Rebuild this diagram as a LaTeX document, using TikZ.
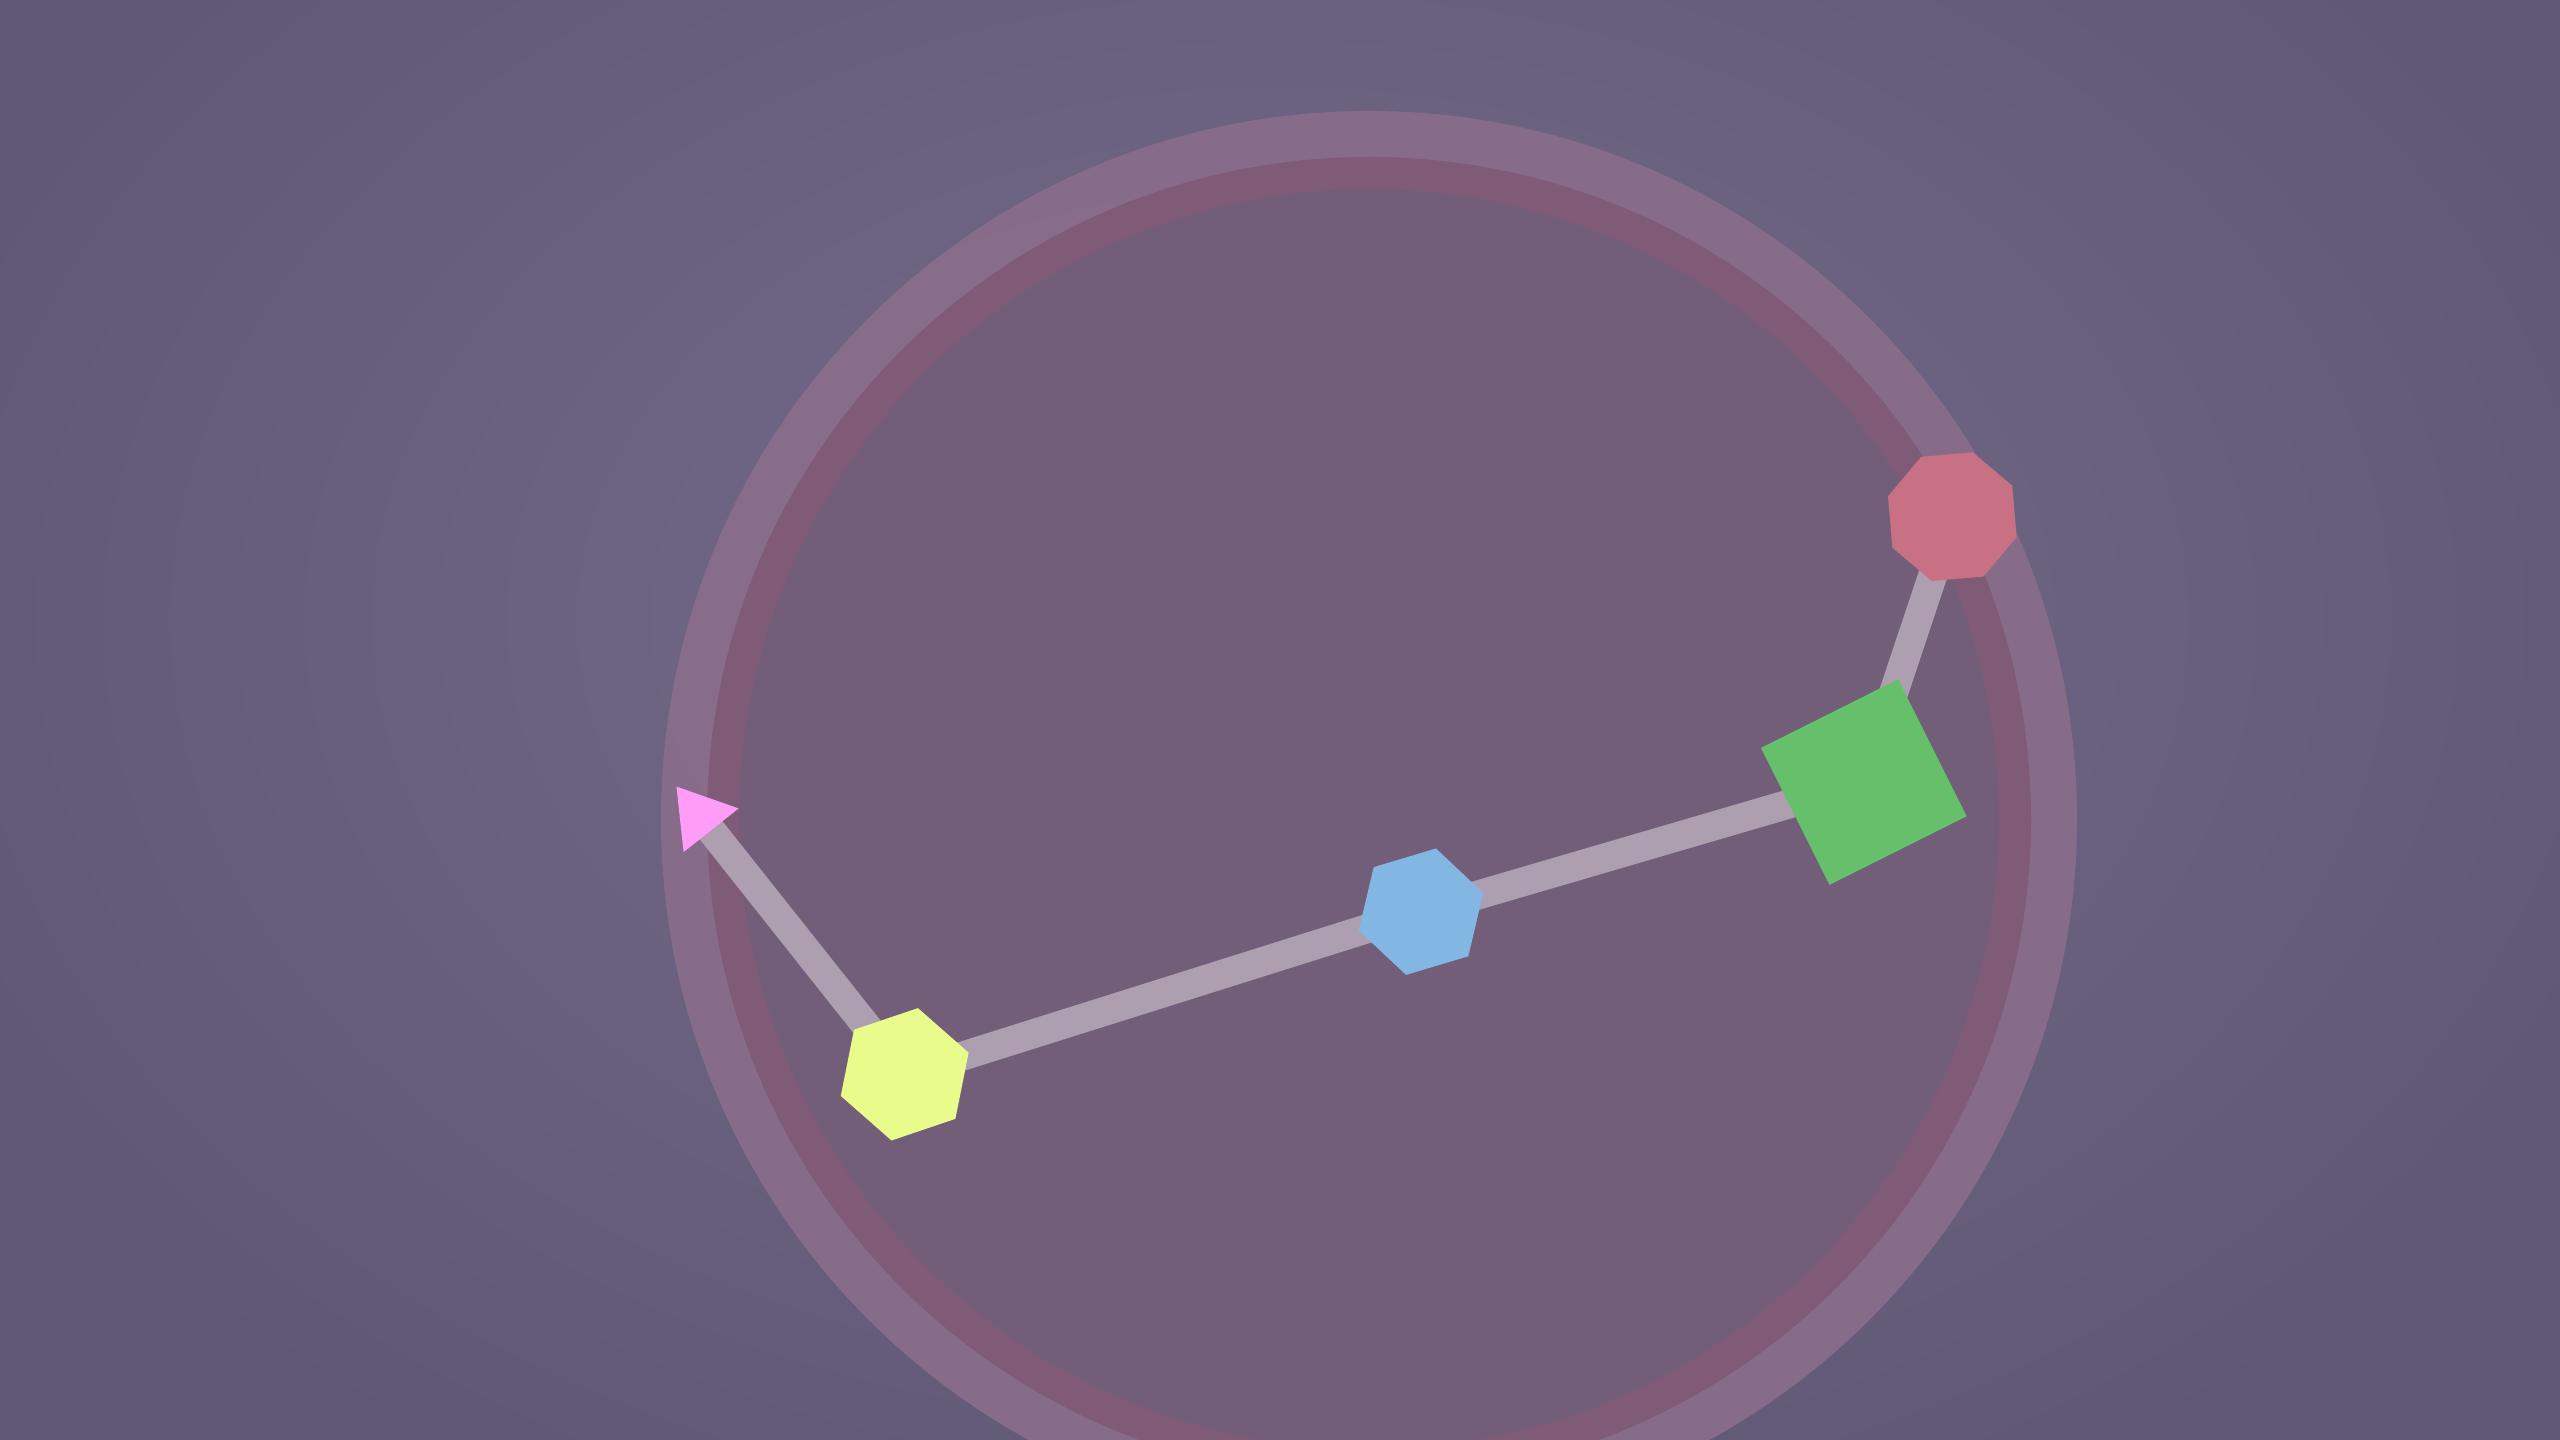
\documentclass[tikz,border=0pt]{standalone}
\usetikzlibrary{shapes.geometric,arrows.meta}
\pgfdeclarelayer{back}
\pgfdeclarelayer{mid}
\pgfsetlayers{back,mid,main}
\definecolor{bgin}{HTML}{756C8B}
\definecolor{bgout}{HTML}{5F5874}
\definecolor{haloc}{HTML}{8A6E8B}
\definecolor{bandc}{HTML}{7F5B78}
\definecolor{innerc}{HTML}{735E7A}
\definecolor{linkc}{HTML}{AD9FAF}
\definecolor{tipc}{HTML}{FF9CF7}
\definecolor{yellowc}{HTML}{E9FB8B}
\definecolor{bluec}{HTML}{83B7E3}
\definecolor{greenc}{HTML}{65BF6B}
\definecolor{redc}{HTML}{C97184}
\tikzset{
  shapebase/.style={draw=none, inner sep=0pt, outer sep=0pt},
  hexnode/.style={shapebase, regular polygon, regular polygon sides=6},
  octnode/.style={shapebase, regular polygon, regular polygon sides=8},
  squarenode/.style={shapebase, rectangle},
  link/.style={draw=linkc, line width=2.9mm, line cap=butt},
}
\begin{document}
\begin{tikzpicture}[x=0.1mm,y=-0.1mm]
\useasboundingbox (0,0) rectangle (2560,1440);
\begin{pgfonlayer}{back}
  \clip (0,0) rectangle (2560,1440);
  \shade[inner color=bgin, outer color=bgout] (-200,-400) rectangle (2760,1640);
  \fill[haloc, opacity=0.9] (1369,819) circle[radius=708];
  \fill[innerc] (1369,819) circle[radius=646];
  \draw[bandc, line width=3.2mm] (1369,819) circle[radius=646];
\end{pgfonlayer}
\node[hexnode, fill=yellowc, minimum size=13.5mm, rotate=18.7] (yellow) at (904.7,1074.3) {};
\node[hexnode, fill=bluec, minimum size=13.0mm, rotate=16.7] (blue) at (1421,911.7) {};
\node[squarenode, fill=greenc, minimum size=15.33mm, rotate=26.6] (green) at (1863.8,782.1) {};
\node[octnode, fill=redc, minimum size=13.5mm, rotate=4.9] (red) at (1952.3,516.7) {};
\coordinate (tip) at (676,786);
\begin{pgfonlayer}{mid}
  \draw[link, -{Triangle[length=5.65mm, width=6.6mm, color=tipc]}] (yellow.center) -- (tip);
  \draw[link] (yellow.center) -- (blue.center);
  \draw[link] (blue.center) -- (green.center);
  \draw[link] (green.center) -- (red.center);
\end{pgfonlayer}
\end{tikzpicture}
\end{document}
